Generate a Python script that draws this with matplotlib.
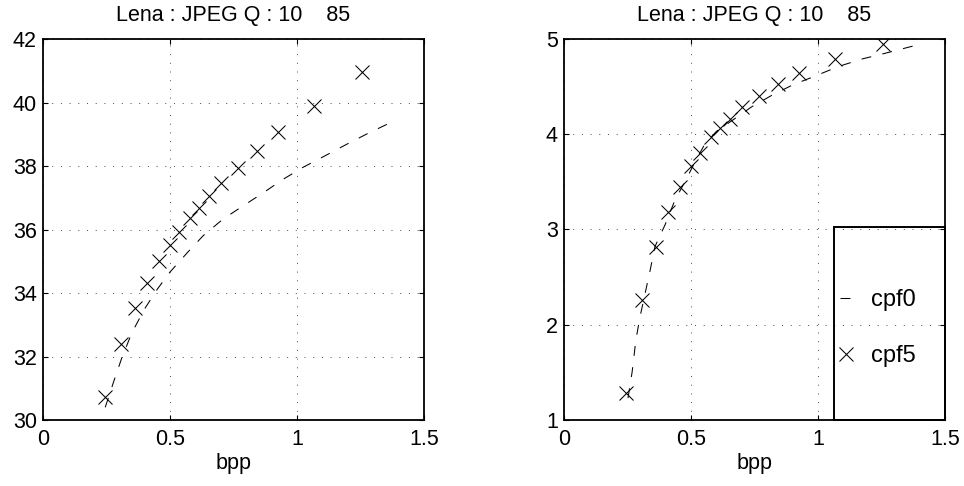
import matplotlib
matplotlib.use("Agg")
import matplotlib.pyplot as plt
from matplotlib.patches import Rectangle

plt.rcParams['font.family'] = ['Liberation Sans', 'DejaVu Sans']

title_text = "Lena : JPEG Q : 10    85"
xlabel_text = "bpp"
series_names = ["cpf0", "cpf5"]

# cpf5 (x markers): bpp shared by both panels
cpf5_bpp = [0.246, 0.309, 0.362, 0.411, 0.455, 0.500, 0.535, 0.579,
            0.614, 0.652, 0.701, 0.766, 0.841, 0.927, 1.065, 1.256]
cpf5_left = [30.72, 32.39, 33.53, 34.31, 35.01, 35.51, 35.92, 36.36,
             36.68, 37.06, 37.46, 37.94, 38.47, 39.07, 39.89, 40.96]
cpf5_right = [1.28, 2.26, 2.82, 3.18, 3.45, 3.67, 3.80, 3.97,
              4.07, 4.16, 4.29, 4.40, 4.53, 4.64, 4.79, 4.95]

# cpf0 (dashed curves)
cpf0_left_bpp = [0.245, 0.28, 0.31, 0.35, 0.40, 0.45, 0.50, 0.567, 0.63,
                 0.709, 0.787, 0.866, 0.945, 1.024, 1.11, 1.197, 1.28, 1.385]
cpf0_left = [30.40, 31.25, 31.95, 32.75, 33.50, 34.12, 34.66, 35.26, 35.80,
             36.33, 36.74, 37.15, 37.58, 37.96, 38.32, 38.69, 39.03, 39.43]
cpf0_right_bpp = [0.252, 0.268, 0.283, 0.299, 0.339, 0.358, 0.398, 0.437,
                  0.476, 0.516, 0.555, 0.60, 0.665, 0.740, 0.819, 0.902,
                  0.988, 1.079, 1.173, 1.264, 1.38]
cpf0_right = [1.23, 1.50, 1.84, 2.08, 2.57, 2.82, 3.05, 3.31, 3.50, 3.71,
              3.90, 4.03, 4.15, 4.29, 4.41, 4.52, 4.61, 4.71, 4.79, 4.85, 4.93]

xticks = [0, 0.5, 1, 1.5]
xticklabels = ["0", "0.5", "1", "1.5"]
yticks_left = [30, 32, 34, 36, 38, 40, 42]
yticks_right = [1, 2, 3, 4, 5]

FS = 15.5
fig = plt.figure(figsize=(9.64, 4.86), dpi=100)
W, H = 964, 486
axL = fig.add_axes([43 / W, (H - 420) / H, 381 / W, 381 / H])
axR = fig.add_axes([564 / W, (H - 420) / H, 381 / W, 381 / H])

dash_style = (0, (9.5, 11))
grid_style = (0, (1, 7.7))

def style(ax, yticks, ylim):
    ax.set_xlim(0, 1.5)
    ax.set_ylim(*ylim)
    ax.set_xticks(xticks)
    ax.set_xticklabels(xticklabels)
    ax.set_yticks(yticks)
    ax.set_yticklabels([str(v) for v in yticks])
    ax.tick_params(direction='in', length=3.5, width=0.8, top=True, right=True,
                   labelsize=FS, pad=6.5)
    ax.tick_params(axis='y', pad=4.5)
    for s in ax.spines.values():
        s.set_linewidth(1.3)
    ax.grid(True, color='#555555', linestyle=grid_style, linewidth=0.72)
    ax.set_axisbelow(True)
    ax.set_title(title_text, fontsize=FS, pad=13)
    ax.set_xlabel(xlabel_text, fontsize=FS, labelpad=2)

lL0, = axL.plot(cpf0_left_bpp, cpf0_left, color='k', linestyle=dash_style, linewidth=0.75)
lL5, = axL.plot(cpf5_bpp, cpf5_left, color='k', linestyle='none', marker='x',
                markersize=9.5, markeredgewidth=0.75)
style(axL, yticks_left, (30, 42))

lR0, = axR.plot(cpf0_right_bpp, cpf0_right, color='k', linestyle=dash_style, linewidth=0.75)
lR5, = axR.plot(cpf5_bpp, cpf5_right, color='k', linestyle='none', marker='x',
                markersize=9.5, markeredgewidth=0.75)
style(axR, yticks_right, (1, 5))

# legend frame (MATLAB-style tall box, transparent)
axR.add_patch(Rectangle((0.709, 0.0), 0.291, 0.507, transform=axR.transAxes,
                        fill=False, edgecolor='k', linewidth=1.4, zorder=5,
                        clip_on=False))
axR.legend([lR0, lR5], series_names, loc='center left',
           bbox_to_anchor=(0.724, 0.2415), frameon=False, fontsize=17,
           handlelength=0.51, handletextpad=0.8, labelspacing=1.45,
           borderpad=0, borderaxespad=0)

fig.savefig("out.png", dpi=100)
